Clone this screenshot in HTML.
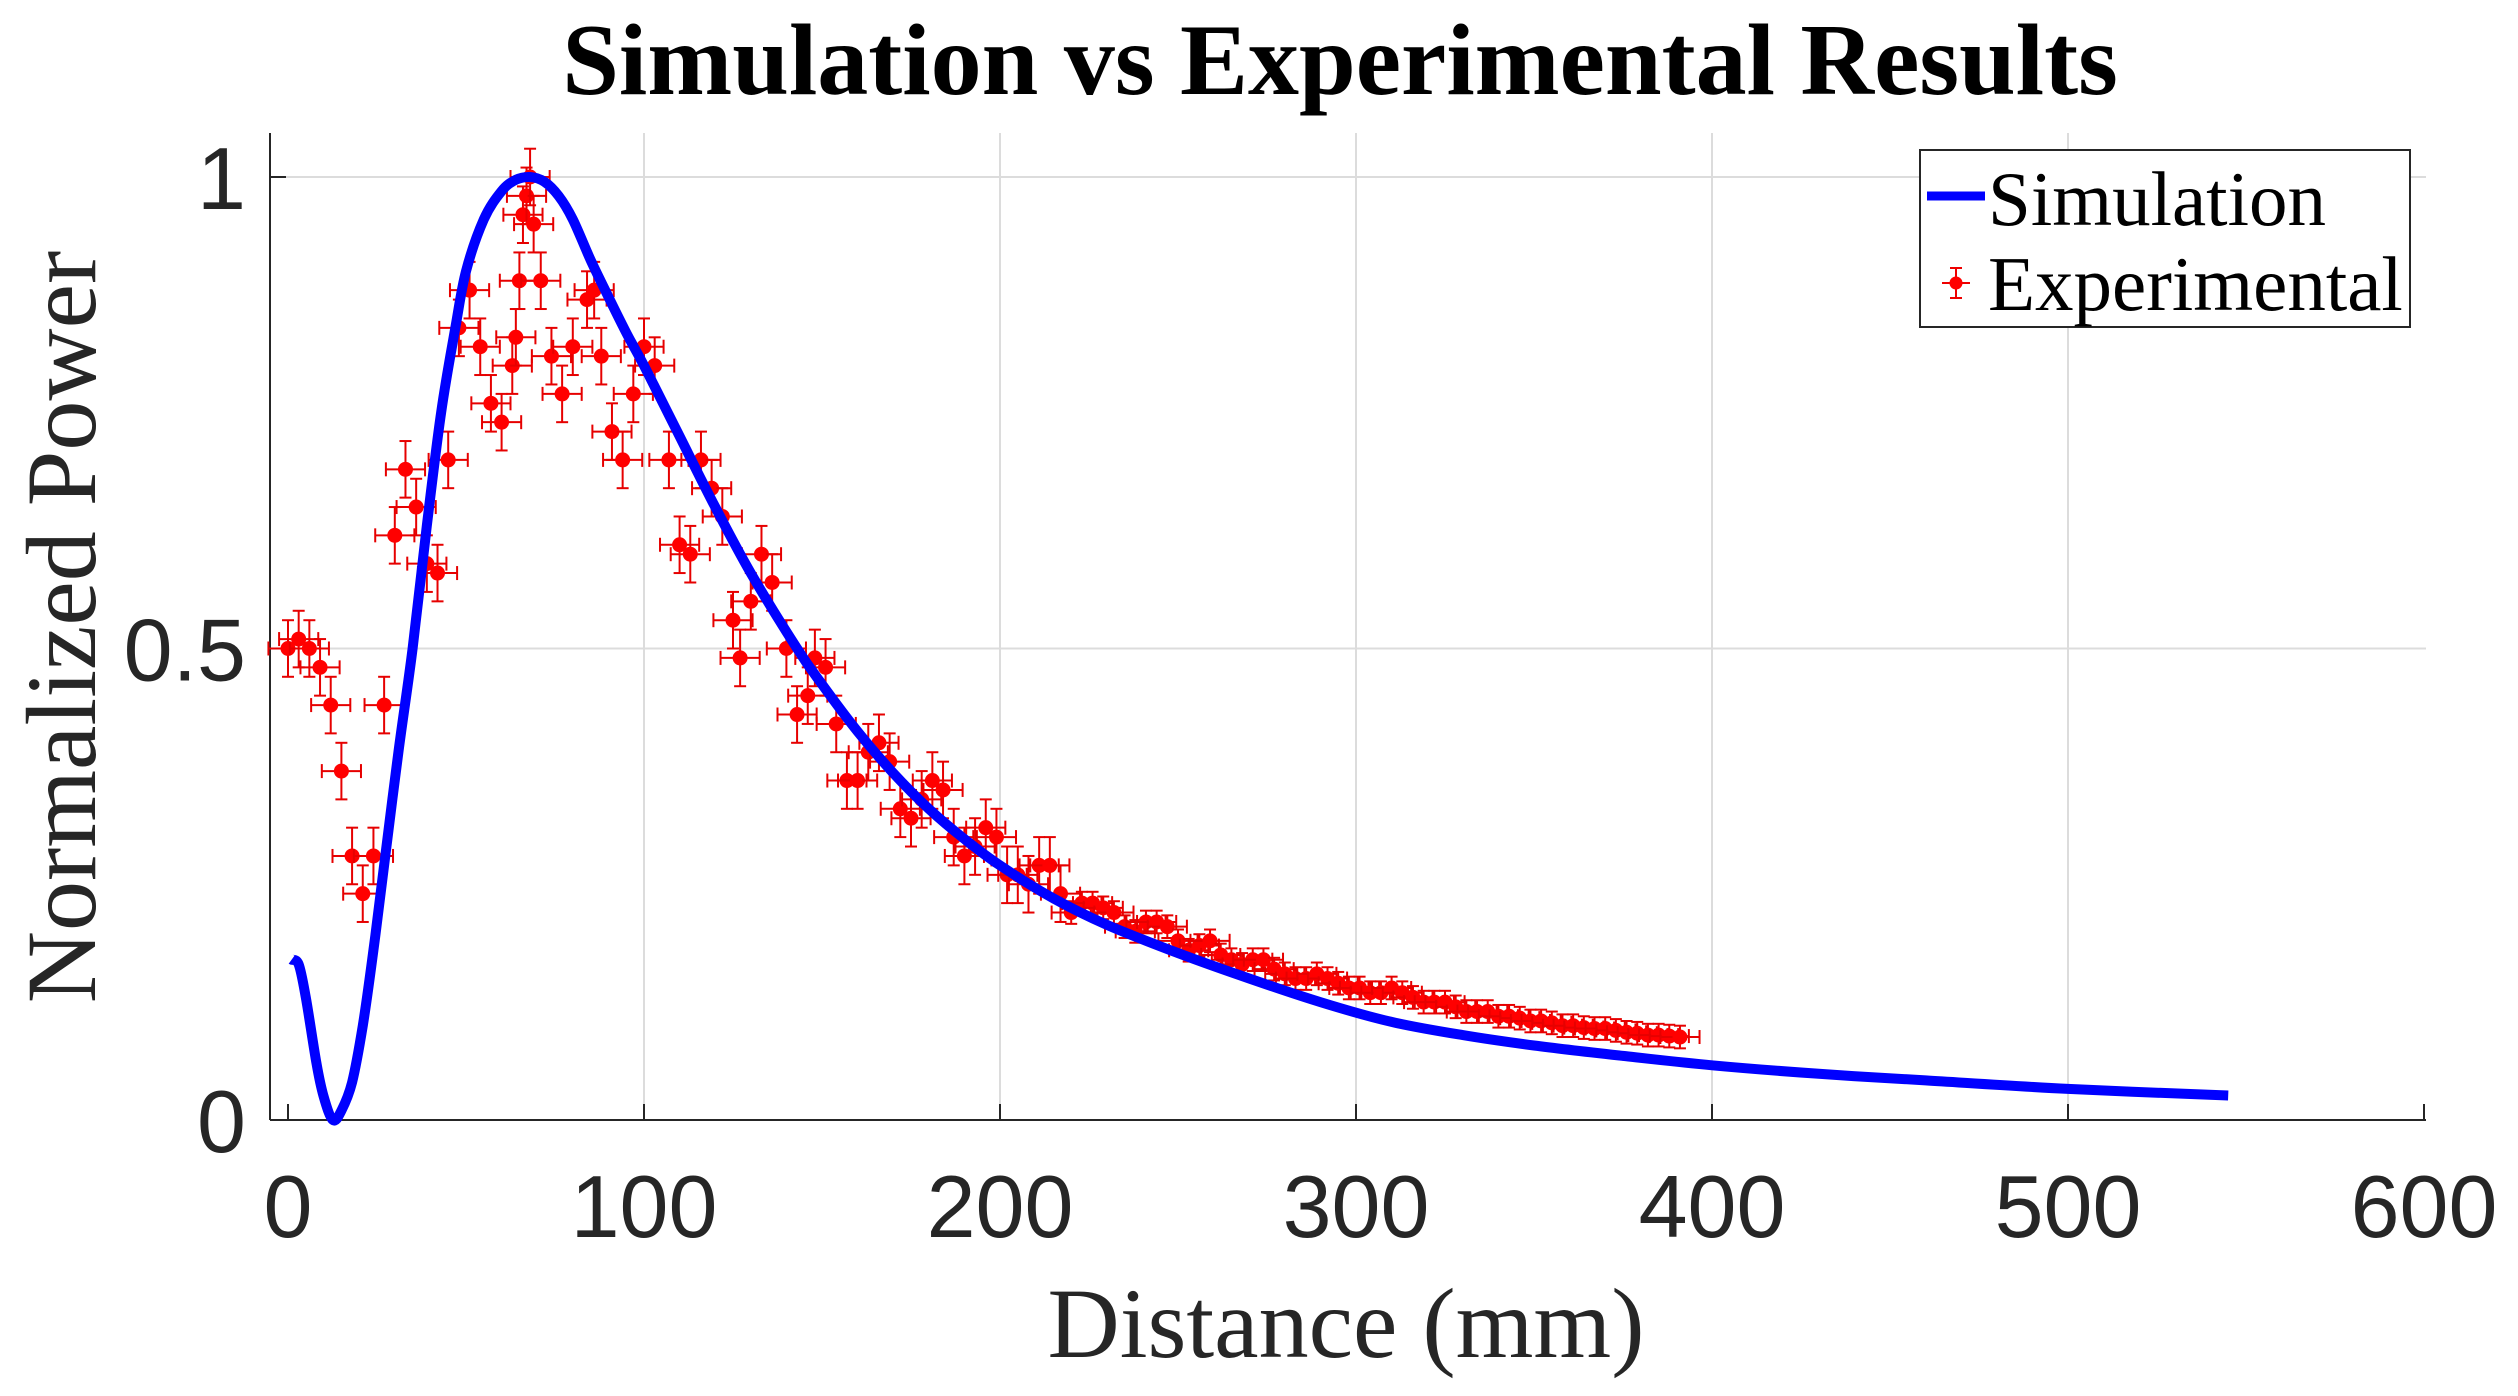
<!DOCTYPE html>
<html><head><meta charset="utf-8"><style>
html,body{margin:0;padding:0;background:#fff;}
svg{display:block;}
</style></head><body>
<svg id="chart" width="2518" height="1396" xmlns="http://www.w3.org/2000/svg">
<rect x="0" y="0" width="2518" height="1396" fill="#fff"/>
<text x="1340" y="94" text-anchor="middle" font-family="Liberation Serif, serif" font-weight="bold" font-size="102" fill="#000">Simulation vs Experimental Results</text>
<g id="grid"></g>
<g id="axes"></g>
<g id="exp"></g>
<g id="sim"></g>
<text x="1346" y="1357" text-anchor="middle" font-family="Liberation Serif, serif" font-size="100" fill="#262626">Distance (mm)</text>
<text transform="translate(95,627) rotate(-90)" text-anchor="middle" font-family="Liberation Serif, serif" font-size="100" fill="#262626">Normalized Power</text>
<g>
<rect x="1920" y="150" width="490" height="177" fill="#fff" stroke="#262626" stroke-width="2"/>
<line x1="1927" y1="196" x2="1985" y2="196" stroke="#0000ff" stroke-width="9"/>
<text x="1988" y="225" font-family="Liberation Serif, serif" font-size="77" fill="#000">Simulation</text>
<g stroke="#ee0000" stroke-width="2">
<line x1="1942" y1="283" x2="1970" y2="283"/><line x1="1956" y1="268" x2="1956" y2="298"/>
<line x1="1950" y1="268" x2="1962" y2="268"/><line x1="1950" y1="298" x2="1962" y2="298"/>
<circle cx="1956" cy="283" r="6.5" fill="#ff0000" stroke="none"/></g>
<text x="1988" y="310" font-family="Liberation Serif, serif" font-size="77" fill="#000">Experimental</text>
</g>
</svg>
<script>
const xTicks=[0,100,200,300,400,500,600];
const yTicks=[0,0.5,1];
const yTickLabels=["0","0.5","1"];
const simX=[1,3,5,8,10,12.6,15,18,21,24,27,31,35,39,43,47,50,55,60,64,68,72,76,80,85,90,95,100,106,110,120,130,143,150,160,170,180,190,200,215,230,250,270,290,310,330,350,375,400,430,460,500,545];
const simY=[0.17,0.165,0.13,0.06,0.025,0.0,0.01,0.04,0.1,0.18,0.27,0.39,0.5,0.63,0.75,0.84,0.9,0.955,0.985,0.997,1.0,0.995,0.98,0.955,0.912,0.873,0.835,0.8,0.755,0.725,0.65,0.58,0.5,0.462,0.412,0.368,0.33,0.298,0.27,0.235,0.207,0.177,0.15,0.125,0.104,0.09,0.079,0.068,0.058,0.049,0.042,0.033,0.026];
const expX=[0,3,6,9,12,15,18,21,24,27,30,33,36,39,42,45,48,51,54,57,60,63,64,65,66,67,68,69,71,74,77,80,84,86,88,91,94,97,100,103,107,110,113,116,119,122,125,127,130,133,136,140,143,146,148,151,154,157,160,163,166,169,172,175,178,181,184,187,190,193,196,199,202,205,208,211,214,217,220,223,226,229,232,235,238,241,244,247,250,253,256,259,262,265,268,271,274,277,280,283,286,289,292,295,298,301,304,307,310,313,316,319,322,325,328,331,334,337,340,343,346,349,352,355,358,361,364,367,370,373,376,379,382,385,388,391];
const expY=[0.50,0.51,0.50,0.48,0.44,0.37,0.28,0.24,0.28,0.44,0.62,0.69,0.65,0.59,0.58,0.70,0.84,0.88,0.82,0.76,0.74,0.80,0.83,0.89,0.96,0.98,1.0,0.95,0.89,0.81,0.77,0.82,0.87,0.88,0.81,0.73,0.70,0.77,0.82,0.80,0.70,0.61,0.60,0.70,0.67,0.64,0.53,0.49,0.55,0.60,0.57,0.50,0.43,0.45,0.49,0.48,0.42,0.36,0.36,0.39,0.40,0.38,0.33,0.32,0.34,0.36,0.35,0.30,0.28,0.29,0.31,0.30,0.26,0.26,0.25,0.27,0.27,0.24,0.22,0.23,0.23,0.225,0.22,0.205,0.20,0.21,0.21,0.205,0.19,0.18,0.185,0.19,0.175,0.17,0.165,0.17,0.17,0.16,0.155,0.15,0.15,0.155,0.15,0.145,0.14,0.14,0.135,0.135,0.14,0.135,0.13,0.125,0.125,0.125,0.12,0.115,0.115,0.115,0.11,0.11,0.108,0.105,0.105,0.103,0.10,0.10,0.098,0.097,0.097,0.095,0.093,0.092,0.09,0.09,0.089,0.088];
const XERR=5.5;
const YERR_NEAR=0.03, YERR_FAR=0.012;

const NS="http://www.w3.org/2000/svg";
const X0=288, XS=3.56, Y0=1120, YS=943;
function sx(v){return X0+v*XS;}
function sy(v){return Y0-v*YS;}
function mk(tag,attrs,parent){const e=document.createElementNS(NS,tag);for(const k in attrs)e.setAttribute(k,attrs[k]);parent.appendChild(e);return e;}
const grid=document.getElementById('grid'),axes=document.getElementById('axes');
xTicks.forEach(t=>{
  if(t>0&&t<600){const g=mk('line',{x1:sx(t),x2:sx(t),y1:133,y2:Y0,stroke:'#dcdcdc','stroke-width':2},grid);
  
  }
  const tk=mk('line',{x1:sx(t),x2:sx(t),y1:Y0,y2:Y0-16,stroke:'#262626','stroke-width':2},axes);
  
  
  const l=mk('text',{x:sx(t),y:1237,'text-anchor':'middle','font-family':'Liberation Sans, sans-serif','font-size':88,fill:'#262626'},axes);
  l.textContent=String(t);
  
  
});
yTicks.forEach((t,i)=>{
  if(t>0){const g=mk('line',{x1:270,x2:2426,y1:sy(t),y2:sy(t),stroke:'#dcdcdc','stroke-width':2},grid);
  
  }
  const tk=mk('line',{x1:270,x2:286,y1:sy(t),y2:sy(t),stroke:'#262626','stroke-width':2},axes);
  
  
  const l=mk('text',{x:246,y:sy(t)+32,'text-anchor':'end','font-family':'Liberation Sans, sans-serif','font-size':88,fill:'#262626'},axes);
  l.textContent=yTickLabels[i];
  
  
});
const ya=mk('line',{x1:270,x2:270,y1:133,y2:Y0,stroke:'#262626','stroke-width':2},axes);


const xa=mk('line',{x1:270,x2:2426,y1:Y0,y2:Y0,stroke:'#262626','stroke-width':2},axes);



const exp=document.getElementById('exp');
expX.forEach((x,i)=>{
  const y=expY[i], ye=x<220?YERR_NEAR:YERR_FAR;
  const g=mk('g',{stroke:'#e60000','stroke-width':2},exp);
  
  
  const cx=sx(x),cy=sy(y);
  mk('line',{x1:sx(x-XERR),x2:sx(x+XERR),y1:cy,y2:cy},g);
  mk('line',{x1:sx(x-XERR),x2:sx(x-XERR),y1:cy-7,y2:cy+7},g);
  mk('line',{x1:sx(x+XERR),x2:sx(x+XERR),y1:cy-7,y2:cy+7},g);
  mk('line',{x1:cx,x2:cx,y1:sy(y+ye),y2:sy(y-ye)},g);
  mk('line',{x1:cx-6,x2:cx+6,y1:sy(y+ye),y2:sy(y+ye)},g);
  mk('line',{x1:cx-6,x2:cx+6,y1:sy(y-ye),y2:sy(y-ye)},g);
  mk('circle',{cx:cx,cy:cy,r:7.5,fill:'#ff0000',stroke:'none'},g);
});
const sim=document.getElementById('sim');
const P=simX.map((x,i)=>[sx(x),sy(simY[i])]);
let d='M'+P[0][0].toFixed(1)+','+P[0][1].toFixed(1);
for(let i=0;i<P.length-1;i++){
  const p0=P[i-1]||P[i],p1=P[i],p2=P[i+1],p3=P[i+2]||P[i+1];
  const c1=[p1[0]+(p2[0]-p0[0])/6,p1[1]+(p2[1]-p0[1])/6];
  const c2=[p2[0]-(p3[0]-p1[0])/6,p2[1]-(p3[1]-p1[1])/6];
  d+=' C'+c1[0].toFixed(1)+','+c1[1].toFixed(1)+' '+c2[0].toFixed(1)+','+c2[1].toFixed(1)+' '+p2[0].toFixed(1)+','+p2[1].toFixed(1);
}
const p=mk('path',{d:d,fill:'none',stroke:'#0000ff','stroke-width':10,'stroke-linejoin':'round'},sim);


</script>
</body></html>
